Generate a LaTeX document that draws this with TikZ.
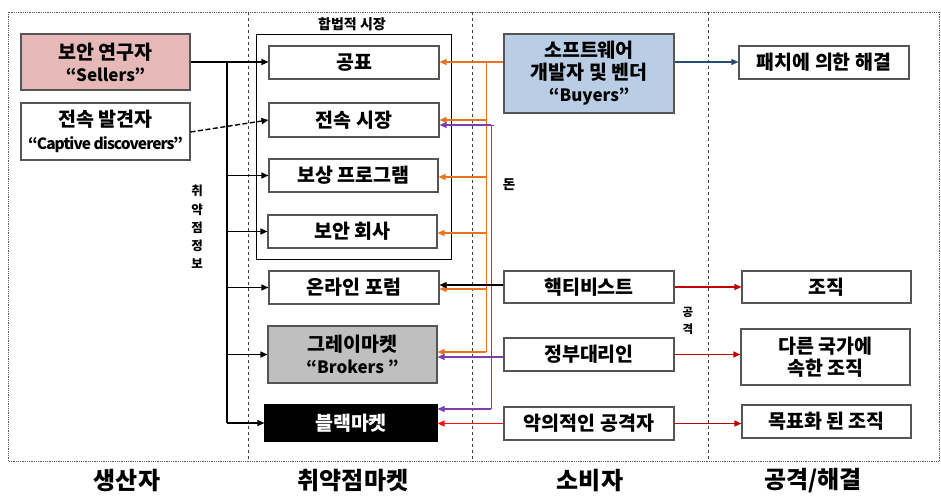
\documentclass[tikz,border=0pt]{standalone}
\usepackage{fontspec}
\setmainfont{Noto Sans CJK KR}
\usetikzlibrary{arrows.meta,calc}
\definecolor{boxgray}{HTML}{555555}
\definecolor{pinkfill}{HTML}{E6B9B8}
\definecolor{bluefill}{HTML}{B9CDE5}
\definecolor{grayfill}{HTML}{BFBFBF}
\definecolor{orng}{HTML}{E8731E}
\definecolor{purp}{HTML}{7A3FB0}
\definecolor{brightred}{HTML}{FF1010}
\definecolor{darkred}{HTML}{C00000}
\definecolor{navy}{HTML}{2A4A72}
\newcommand{\latn}[1]{{\fontsize{17}{22}\selectfont #1}}
\tikzset{
  box/.style={draw=boxgray, line width=1.1pt, fill=white, align=center, inner sep=0pt,
    font=\bfseries\fontsize{19.5}{22}\selectfont},
  tip/.style={-{Triangle[length=7pt,width=6pt]}},
  blkline/.style={draw=black, line width=1.2pt},
  orline/.style={draw=orng, line width=1.2pt},
  puline/.style={draw=purp, line width=1.2pt},
  lbl/.style={font=\bfseries\fontsize{12}{17}\selectfont, align=center, inner sep=0pt},
  collbl/.style={font=\bfseries\fontsize{24}{28}\selectfont, inner sep=0pt},
}
\begin{document}
\begin{tikzpicture}[x=1pt,y=-1pt]
\useasboundingbox (0,0) rectangle (941,495);
% frame and dividers
\draw[gray!70!black, densely dotted, line width=0.8pt] (8,12) rectangle (939.5,461);
\foreach \xx in {248,472.5,708} \draw[black!75, dashed, line width=0.7pt] (\xx,12) -- (\xx,461);
% legal market frame
\node[draw=black, line width=0.9pt, minimum width=195pt, minimum height=225pt, inner sep=0pt] (legal) at (353.5,146.5) {};
\node[lbl, font=\bfseries\fontsize{14}{17}\selectfont] (legalt) at (352,24) {합법적 시장};
% producers
\node[box, fill=pinkfill, minimum width=169pt, minimum height=56pt] (sellers) at (105.5,62) {보안 연구자\\\latn{“Sellers”}};
\node[box, minimum width=169pt, minimum height=57pt, font=\bfseries\fontsize{19.5}{23}\selectfont] (captive) at (105.5,131.5) {전속 발견자\\{\fontsize{15.5}{18}\selectfont\addfontfeatures{LetterSpace=-6}“Captive discoverers”}};
% market
\node[box, minimum width=170pt, minimum height=33pt] (gongpyo) at (354,62.5) {공표};
\node[box, minimum width=170pt, minimum height=34pt] (jeonsok) at (354,120) {전속 시장};
\node[box, minimum width=169pt, minimum height=33pt] (bosang) at (353.5,175.5) {보상 프로그램};
\node[box, minimum width=169pt, minimum height=33pt] (boan) at (352.5,231.5) {보안 회사};
\node[box, minimum width=170pt, minimum height=33pt] (forum) at (354,287.5) {온라인 포럼};
\node[box, fill=grayfill, minimum width=169pt, minimum height=57pt] (gray) at (352.5,354.5) {그레이마켓\\\latn{“Brokers "}};
\node[box, draw=black, fill=black, text=white, minimum width=172pt, minimum height=36pt] (black) at (351,423) {블랙마켓};
% consumers
\node[box, fill=bluefill, minimum width=170pt, minimum height=79pt] (buyers) at (589,73.5) {소프트웨어\\개발자 및 벤더\\\latn{“Buyers”}};
\node[box, minimum width=170pt, minimum height=32pt] (hack) at (589,287) {핵티비스트};
\node[box, minimum width=170pt, minimum height=33pt] (gov) at (589,354.5) {정부대리인};
\node[box, minimum width=170pt, minimum height=33pt] (mal) at (589,423.5) {악의적인 공격자};
% results
\node[box, minimum width=170pt, minimum height=33pt] (patch) at (824,62.5) {패치에 의한 해결};
\node[box, minimum width=169pt, minimum height=32pt] (org) at (826.5,287) {조직};
\node[box, minimum width=169pt, minimum height=56pt] (other) at (825.5,357) {다른 국가에\\속한 조직};
\node[box, minimum width=169pt, minimum height=33pt] (target) at (826.5,421.5) {목표화 된 조직};
% labels
\node[lbl, font=\bfseries\fontsize{12.5}{18.2}\selectfont] (vinfo) at (197,227) {취\\약\\점\\정\\보};
\node[lbl, font=\bfseries\fontsize{13.5}{16}\selectfont] (money) at (509,185) {돈};
\node[lbl, font=\bfseries\fontsize{11.5}{17}\selectfont] (attack) at (688,320.5) {공\\격};
\node[collbl] (c1) at (127,481) {생산자};
\node[collbl] (c2) at (353,481) {취약점마켓};
\node[collbl] (c3) at (590,481) {소비자};
\node[collbl] (c4) at (813,481) {공격/해결};
% black information lines
\coordinate (bT) at (227,62);
\coordinate (bB) at (227,423);
\draw[blkline, tip] (sellers.east |- bT) -- (gongpyo.west |- bT);
\draw[blkline] (bT) -- (bB);
\foreach \n in {bosang,boan,forum,gray,black}
  \draw[blkline, tip] (bT |- \n.west) -- (\n.west);
\draw[blkline, dash pattern=on 5pt off 2.5pt, line width=1.4pt, tip] ([yshift=-0.5pt]captive.east) -- (jeonsok.west);
% orange money lines
\coordinate (oT) at (486,62);
\coordinate (oB) at (486,352);
\draw[orline, tip] ([yshift=11.5pt]buyers.west) -- (gongpyo.east |- oT);
\draw[orline, line width=1pt] (oT) -- (oB);
\draw[orline, tip] (oT |- jeonsok.east) -- (jeonsok.east);
\draw[orline, tip] ([yshift=-1.5pt]oT |- bosang.east) -- ([yshift=-1.5pt]bosang.east);
\draw[orline, tip] ([yshift=-1.5pt]oT |- boan.east) -- ([yshift=-1.5pt]boan.east);
\draw[orline, tip] ([yshift=-1.5pt]oT |- forum.east) -- ([yshift=-1.5pt]forum.east);
\draw[orline, tip] (oB) -- (oB -| gray.east);
% purple lines
\coordinate (pT) at (491,125);
\coordinate (pB) at (491,409);
\draw[puline, tip] ([yshift=-2.5pt]gov.west) -- ([yshift=-2.5pt]gov.west -| gray.east);
\draw[puline, line width=1pt] ([xshift=3pt]pT) -- (pT) -- (pB);
\draw[puline, tip] (pT) -- (pT -| jeonsok.east);
\draw[puline, tip] (pB) -- (pB -| black.east);
% hacktivist to forum
\draw[blkline, tip] ([yshift=2pt]hack.west) -- ([yshift=2pt]hack.west -| forum.east);
% malicious to black market
\draw[draw=brightred, line width=1.2pt, tip] (mal.west) -- (mal.west -| black.east);
% buyers to patch
\draw[draw=navy, line width=1.2pt, tip] ([yshift=11.5pt]buyers.east) -- ([yshift=11.5pt]buyers.east -| patch.west);
% attacks
\draw[draw=darkred, line width=1.2pt, tip] (hack.east) -- (hack.east -| org.west);
\draw[draw=darkred, line width=1.2pt, tip] (gov.east) -- (gov.east -| other.west);
\draw[draw=darkred, line width=1.2pt, tip] (mal.east) -- (mal.east -| target.west);
\end{tikzpicture}
\end{document}
